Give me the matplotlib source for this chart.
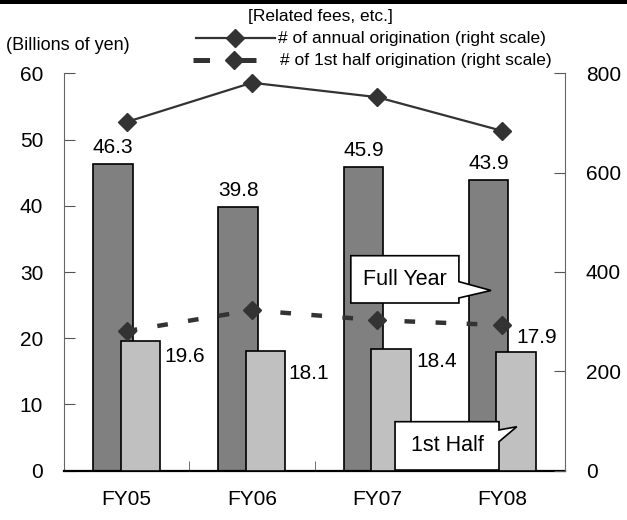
import matplotlib
matplotlib.use("Agg")
import matplotlib.pyplot as plt
from matplotlib.patches import Polygon, Rectangle
from matplotlib.lines import Line2D
import numpy as np

# ---- data ----
categories = ["FY05", "FY06", "FY07", "FY08"]
fees_full_year = [46.3, 39.8, 45.9, 43.9]
fees_first_half = [19.6, 18.1, 18.4, 17.9]
orig_annual = [702, 781, 752, 684]
orig_first_half = [281, 323, 303, 293]
left_ticks = [0, 10, 20, 30, 40, 50, 60]
right_ticks = [0, 200, 400, 600, 800]

# ---- style / layout ----
plt.rcParams['font.family'] = ['Liberation Sans', 'DejaVu Sans']
W, H = 627, 520
DARK = '#808080'
LIGHT = '#C0C0C0'
LINEC = '#333333'
bar_w = 0.314
bar_off = 0.11
# label offsets (points) for first-half labels relative to bar top-right corner
half_label_offsets = [(3.2, -15), (2.0, -20), (4.5, -13), (-14, 6.5)]

fig = plt.figure(figsize=(W / 100, H / 100), dpi=100)
ax = fig.add_axes([64 / W, 1 - 470.7 / H, (565 - 64) / W, (470.7 - 73.3) / H])

x = np.arange(len(categories))
ax.bar(x - bar_off, fees_full_year, width=bar_w, color=DARK, edgecolor='black',
       linewidth=1.2, zorder=2)
ax.bar(x + bar_off, fees_first_half, width=bar_w, color=LIGHT, edgecolor='black',
       linewidth=1.2, zorder=3)

ax.set_xlim(-0.5, 3.5)
ax.set_ylim(0, 60)
ax.set_yticks(left_ticks)
ax.set_xticks(x)
ax.set_xticklabels(categories)
ax.set_xticks(x[:-1] + 0.5, minor=True)
ax.tick_params(axis='x', which='major', length=0, pad=14, labelsize=15)
ax.tick_params(axis='x', which='minor', direction='in', length=7, color='#555555')
ax.tick_params(axis='y', direction='in', length=8, pad=15, labelsize=15, color='#555555')
ax.spines['top'].set_visible(False)
ax.spines['left'].set_color('#666666')
ax.spines['right'].set_visible(False)
ax.spines['bottom'].set_color('black')
ax.spines['bottom'].set_linewidth(1.6)

# value labels
for xi, v in zip(x, fees_full_year):
    ax.annotate(f"{v:.1f}", (xi - bar_off, v), xytext=(0, 8), textcoords='offset points',
                ha='center', va='baseline', fontsize=15, zorder=6)
for xi, v, (dx, dy) in zip(x, fees_first_half, half_label_offsets):
    ax.annotate(f"{v:.1f}", (xi + bar_off + bar_w / 2, v), xytext=(dx, dy),
                textcoords='offset points', ha='left', va='baseline', fontsize=15, zorder=6)

# right axis
ax2 = ax.twinx()
ax2.set_ylim(0, 800)
ax2.set_yticks(right_ticks)
ax2.tick_params(axis='y', direction='in', length=8, pad=15, labelsize=15, color='#555555')
for s in ['top', 'left', 'bottom']:
    ax2.spines[s].set_visible(False)
ax2.spines['right'].set_color('#666666')

ax2.plot(x, orig_annual, color=LINEC, linewidth=1.6, marker='D', markersize=9,
         markerfacecolor=LINEC, markeredgecolor=LINEC, zorder=5)
ax2.plot(x, orig_first_half, color=LINEC, linewidth=3.2, dashes=(2.4, 4.6),
         dash_capstyle='butt', marker='D', markersize=9,
         markerfacecolor=LINEC, markeredgecolor=LINEC, zorder=5)

# callouts (in left-axis data units)
full_year_box = [(1.790, 32.46), (2.653, 32.46), (2.653, 28.54), (2.909, 27.21),
                 (2.653, 26.08), (2.653, 25.32), (1.790, 25.32)]
half_box = [(2.143, 7.40), (2.973, 7.40), (2.973, 6.15), (3.115, 6.64),
            (2.973, 4.38), (2.973, 0.1), (2.143, 0.1)]
for pts, label, (tx, ty) in [(full_year_box, "Full Year", (2.223, 28.9)),
                             (half_box, "1st Half", (2.558, 3.73))]:
    poly = Polygon(pts, closed=True, facecolor='white', edgecolor='black', linewidth=1.2,
                   transform=ax.transData, zorder=10)
    ax2.add_patch(poly)
    ax2.text(tx, ty, label, transform=ax.transData, ha='center', va='center',
             fontsize=15.5, zorder=11)

# top band
fig.add_artist(Rectangle((0, 1 - 4 / H), 1, 4 / H, transform=fig.transFigure,
                         facecolor='black', edgecolor='none'))

def fx(px):
    return px / W

def fy(py):
    return 1 - py / H

fig.text(fx(68), fy(45), "(Billions of yen)", ha='center', va='center', fontsize=13)
fig.text(fx(320), fy(17), "[Related fees, etc.]", ha='center', va='center', fontsize=12.5)

# legend (manual)
fig.add_artist(Line2D([fx(196), fx(275)], [fy(38), fy(38)], color=LINEC, linewidth=1.6,
                      transform=fig.transFigure))
fig.add_artist(Line2D([fx(235)], [fy(38)], marker='D', markersize=9, color=LINEC,
                      linestyle='none', transform=fig.transFigure))
fig.text(fx(278), fy(38), "# of annual origination (right scale)", ha='left', va='center',
         fontsize=12.5)
fig.add_artist(Line2D([fx(193), fx(265)], [fy(60), fy(60)], color=LINEC, linewidth=3.6,
                      dashes=(3.3, 6.0), dash_capstyle='butt', transform=fig.transFigure))
fig.add_artist(Line2D([fx(234)], [fy(60)], marker='D', markersize=9, color=LINEC,
                      linestyle='none', transform=fig.transFigure))
fig.text(fx(280), fy(60), "# of 1st half origination (right scale)", ha='left', va='center',
         fontsize=12.5)

fig.savefig("out.png", dpi=100)
